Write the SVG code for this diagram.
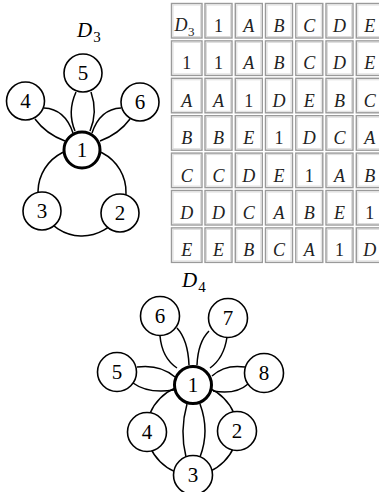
<svg xmlns="http://www.w3.org/2000/svg" width="379" height="492" viewBox="0 0 379 492">
  <style>
    .edge { fill: none; stroke: #000; stroke-width: 1.5; }
    .node circle { fill: #fff; stroke: #000; stroke-width: 1.6; }
    .node.hub circle { stroke-width: 3; }
    .node text { font-family: "Liberation Serif", "Times New Roman", serif; font-size: 21px; text-anchor: middle; fill: #000; }
    .title { font-family: "Liberation Serif", "Times New Roman", serif; font-style: italic; font-size: 21px; fill: #000; }
    .sub { font-style: normal; font-size: 15px; }
    .cell rect.o { fill: #fff; stroke: #9a9a9a; stroke-width: 1.4; }
    .cell rect.i { fill: none; stroke: #dcdcdc; stroke-width: 1; }
    .cell text { font-family: "Liberation Serif", "Times New Roman", serif; font-size: 18px; text-anchor: middle; fill: #222; }
    .cell text.l { font-style: italic; }
    .cell text.s { text-anchor: start; }
    .cell .csub { font-style: normal; font-size: 13px; }
  </style>

  <!-- Graph D3 -->
  <text class="title" x="77" y="37">D<tspan class="sub" dx="1" dy="5">3</tspan></text>

  <g id="d3-edges">
    <!-- 1-5 double edge -->
    <path class="edge" d="M75,131 Q67,112 76,92"/>
    <path class="edge" d="M90,131 Q98,112 91,92"/>
    <!-- 1-4 double edge -->
    <path class="edge" d="M44,108 Q65,109 73,133"/>
    <path class="edge" d="M35,119 Q46,134 65,141"/>
    <!-- 1-6 double edge -->
    <path class="edge" d="M121,108 Q100,109 92,133"/>
    <path class="edge" d="M130,119 Q119,134 100,141"/>
    <!-- outer ring 1-3, 3-2, 2-1 -->
    <path class="edge" d="M82,148 A44,44 0 0 0 42.3,210.9"/>
    <path class="edge" d="M42.3,210.9 A44,44 0 0 0 120.5,213.3"/>
    <path class="edge" d="M120.5,213.3 A44,44 0 0 0 82,148"/>
  </g>

  <g id="d3-n1" class="node hub"><circle cx="82" cy="150" r="18"/><text x="82" y="157">1</text></g>
  <g id="d3-n2" class="node"><circle cx="120" cy="213" r="19"/><text x="120" y="220">2</text></g>
  <g id="d3-n3" class="node"><circle cx="42" cy="211" r="19"/><text x="42" y="218">3</text></g>
  <g id="d3-n4" class="node"><circle cx="25.5" cy="101" r="19"/><text x="25.5" y="108">4</text></g>
  <g id="d3-n5" class="node"><circle cx="83" cy="73" r="19"/><text x="83" y="80">5</text></g>
  <g id="d3-n6" class="node"><circle cx="140" cy="102" r="19"/><text x="140" y="109">6</text></g>

  <!-- Multiplication table of D3 -->
  <g id="table">
    <!-- row 1 -->
    <g class="cell"><rect class="o" x="171.5" y="3.5" width="30.5" height="34.5"/><rect class="i" x="173" y="5" width="27.5" height="31.5"/><text class="l s" x="174.5" y="31">D<tspan class="csub" dx="0.5" dy="5">3</tspan></text></g>
    <g class="cell"><rect class="o" x="205" y="3.5" width="27" height="34.5"/><rect class="i" x="206.5" y="5" width="24" height="31.5"/><text x="218.5" y="32">1</text></g>
    <g class="cell"><rect class="o" x="235.3" y="3.5" width="27" height="34.5"/><rect class="i" x="236.8" y="5" width="24" height="31.5"/><text class="l" x="248.8" y="32">A</text></g>
    <g class="cell"><rect class="o" x="265.5" y="3.5" width="27" height="34.5"/><rect class="i" x="267" y="5" width="24" height="31.5"/><text class="l" x="279" y="32">B</text></g>
    <g class="cell"><rect class="o" x="295.8" y="3.5" width="27" height="34.5"/><rect class="i" x="297.3" y="5" width="24" height="31.5"/><text class="l" x="309.3" y="32">C</text></g>
    <g class="cell"><rect class="o" x="326" y="3.5" width="27" height="34.5"/><rect class="i" x="327.5" y="5" width="24" height="31.5"/><text class="l" x="339.5" y="32">D</text></g>
    <g class="cell"><rect class="o" x="356.3" y="3.5" width="27" height="34.5"/><rect class="i" x="357.8" y="5" width="24" height="31.5"/><text class="l" x="369.8" y="32">E</text></g>
    <!-- row 2 -->
    <g class="cell"><rect class="o" x="171.5" y="40.9" width="30.5" height="34.5"/><rect class="i" x="173" y="42.4" width="27.5" height="31.5"/><text x="186.7" y="69.4">1</text></g>
    <g class="cell"><rect class="o" x="205" y="40.9" width="27" height="34.5"/><rect class="i" x="206.5" y="42.4" width="24" height="31.5"/><text x="218.5" y="69.4">1</text></g>
    <g class="cell"><rect class="o" x="235.3" y="40.9" width="27" height="34.5"/><rect class="i" x="236.8" y="42.4" width="24" height="31.5"/><text class="l" x="248.8" y="69.4">A</text></g>
    <g class="cell"><rect class="o" x="265.5" y="40.9" width="27" height="34.5"/><rect class="i" x="267" y="42.4" width="24" height="31.5"/><text class="l" x="279" y="69.4">B</text></g>
    <g class="cell"><rect class="o" x="295.8" y="40.9" width="27" height="34.5"/><rect class="i" x="297.3" y="42.4" width="24" height="31.5"/><text class="l" x="309.3" y="69.4">C</text></g>
    <g class="cell"><rect class="o" x="326" y="40.9" width="27" height="34.5"/><rect class="i" x="327.5" y="42.4" width="24" height="31.5"/><text class="l" x="339.5" y="69.4">D</text></g>
    <g class="cell"><rect class="o" x="356.3" y="40.9" width="27" height="34.5"/><rect class="i" x="357.8" y="42.4" width="24" height="31.5"/><text class="l" x="369.8" y="69.4">E</text></g>
    <!-- row 3 -->
    <g class="cell"><rect class="o" x="171.5" y="78.3" width="30.5" height="34.5"/><rect class="i" x="173" y="79.8" width="27.5" height="31.5"/><text class="l" x="186.7" y="106.8">A</text></g>
    <g class="cell"><rect class="o" x="205" y="78.3" width="27" height="34.5"/><rect class="i" x="206.5" y="79.8" width="24" height="31.5"/><text class="l" x="218.5" y="106.8">A</text></g>
    <g class="cell"><rect class="o" x="235.3" y="78.3" width="27" height="34.5"/><rect class="i" x="236.8" y="79.8" width="24" height="31.5"/><text x="248.8" y="106.8">1</text></g>
    <g class="cell"><rect class="o" x="265.5" y="78.3" width="27" height="34.5"/><rect class="i" x="267" y="79.8" width="24" height="31.5"/><text class="l" x="279" y="106.8">D</text></g>
    <g class="cell"><rect class="o" x="295.8" y="78.3" width="27" height="34.5"/><rect class="i" x="297.3" y="79.8" width="24" height="31.5"/><text class="l" x="309.3" y="106.8">E</text></g>
    <g class="cell"><rect class="o" x="326" y="78.3" width="27" height="34.5"/><rect class="i" x="327.5" y="79.8" width="24" height="31.5"/><text class="l" x="339.5" y="106.8">B</text></g>
    <g class="cell"><rect class="o" x="356.3" y="78.3" width="27" height="34.5"/><rect class="i" x="357.8" y="79.8" width="24" height="31.5"/><text class="l" x="369.8" y="106.8">C</text></g>
    <!-- row 4 -->
    <g class="cell"><rect class="o" x="171.5" y="115.7" width="30.5" height="34.5"/><rect class="i" x="173" y="117.2" width="27.5" height="31.5"/><text class="l" x="186.7" y="144.2">B</text></g>
    <g class="cell"><rect class="o" x="205" y="115.7" width="27" height="34.5"/><rect class="i" x="206.5" y="117.2" width="24" height="31.5"/><text class="l" x="218.5" y="144.2">B</text></g>
    <g class="cell"><rect class="o" x="235.3" y="115.7" width="27" height="34.5"/><rect class="i" x="236.8" y="117.2" width="24" height="31.5"/><text class="l" x="248.8" y="144.2">E</text></g>
    <g class="cell"><rect class="o" x="265.5" y="115.7" width="27" height="34.5"/><rect class="i" x="267" y="117.2" width="24" height="31.5"/><text x="279" y="144.2">1</text></g>
    <g class="cell"><rect class="o" x="295.8" y="115.7" width="27" height="34.5"/><rect class="i" x="297.3" y="117.2" width="24" height="31.5"/><text class="l" x="309.3" y="144.2">D</text></g>
    <g class="cell"><rect class="o" x="326" y="115.7" width="27" height="34.5"/><rect class="i" x="327.5" y="117.2" width="24" height="31.5"/><text class="l" x="339.5" y="144.2">C</text></g>
    <g class="cell"><rect class="o" x="356.3" y="115.7" width="27" height="34.5"/><rect class="i" x="357.8" y="117.2" width="24" height="31.5"/><text class="l" x="369.8" y="144.2">A</text></g>
    <!-- row 5 -->
    <g class="cell"><rect class="o" x="171.5" y="153.1" width="30.5" height="34.5"/><rect class="i" x="173" y="154.6" width="27.5" height="31.5"/><text class="l" x="186.7" y="181.6">C</text></g>
    <g class="cell"><rect class="o" x="205" y="153.1" width="27" height="34.5"/><rect class="i" x="206.5" y="154.6" width="24" height="31.5"/><text class="l" x="218.5" y="181.6">C</text></g>
    <g class="cell"><rect class="o" x="235.3" y="153.1" width="27" height="34.5"/><rect class="i" x="236.8" y="154.6" width="24" height="31.5"/><text class="l" x="248.8" y="181.6">D</text></g>
    <g class="cell"><rect class="o" x="265.5" y="153.1" width="27" height="34.5"/><rect class="i" x="267" y="154.6" width="24" height="31.5"/><text class="l" x="279" y="181.6">E</text></g>
    <g class="cell"><rect class="o" x="295.8" y="153.1" width="27" height="34.5"/><rect class="i" x="297.3" y="154.6" width="24" height="31.5"/><text x="309.3" y="181.6">1</text></g>
    <g class="cell"><rect class="o" x="326" y="153.1" width="27" height="34.5"/><rect class="i" x="327.5" y="154.6" width="24" height="31.5"/><text class="l" x="339.5" y="181.6">A</text></g>
    <g class="cell"><rect class="o" x="356.3" y="153.1" width="27" height="34.5"/><rect class="i" x="357.8" y="154.6" width="24" height="31.5"/><text class="l" x="369.8" y="181.6">B</text></g>
    <!-- row 6 -->
    <g class="cell"><rect class="o" x="171.5" y="190.5" width="30.5" height="34.5"/><rect class="i" x="173" y="192" width="27.5" height="31.5"/><text class="l" x="186.7" y="219">D</text></g>
    <g class="cell"><rect class="o" x="205" y="190.5" width="27" height="34.5"/><rect class="i" x="206.5" y="192" width="24" height="31.5"/><text class="l" x="218.5" y="219">D</text></g>
    <g class="cell"><rect class="o" x="235.3" y="190.5" width="27" height="34.5"/><rect class="i" x="236.8" y="192" width="24" height="31.5"/><text class="l" x="248.8" y="219">C</text></g>
    <g class="cell"><rect class="o" x="265.5" y="190.5" width="27" height="34.5"/><rect class="i" x="267" y="192" width="24" height="31.5"/><text class="l" x="279" y="219">A</text></g>
    <g class="cell"><rect class="o" x="295.8" y="190.5" width="27" height="34.5"/><rect class="i" x="297.3" y="192" width="24" height="31.5"/><text class="l" x="309.3" y="219">B</text></g>
    <g class="cell"><rect class="o" x="326" y="190.5" width="27" height="34.5"/><rect class="i" x="327.5" y="192" width="24" height="31.5"/><text class="l" x="339.5" y="219">E</text></g>
    <g class="cell"><rect class="o" x="356.3" y="190.5" width="27" height="34.5"/><rect class="i" x="357.8" y="192" width="24" height="31.5"/><text x="369.8" y="219">1</text></g>
    <!-- row 7 -->
    <g class="cell"><rect class="o" x="171.5" y="227.9" width="30.5" height="34.5"/><rect class="i" x="173" y="229.4" width="27.5" height="31.5"/><text class="l" x="186.7" y="256.4">E</text></g>
    <g class="cell"><rect class="o" x="205" y="227.9" width="27" height="34.5"/><rect class="i" x="206.5" y="229.4" width="24" height="31.5"/><text class="l" x="218.5" y="256.4">E</text></g>
    <g class="cell"><rect class="o" x="235.3" y="227.9" width="27" height="34.5"/><rect class="i" x="236.8" y="229.4" width="24" height="31.5"/><text class="l" x="248.8" y="256.4">B</text></g>
    <g class="cell"><rect class="o" x="265.5" y="227.9" width="27" height="34.5"/><rect class="i" x="267" y="229.4" width="24" height="31.5"/><text class="l" x="279" y="256.4">C</text></g>
    <g class="cell"><rect class="o" x="295.8" y="227.9" width="27" height="34.5"/><rect class="i" x="297.3" y="229.4" width="24" height="31.5"/><text class="l" x="309.3" y="256.4">A</text></g>
    <g class="cell"><rect class="o" x="326" y="227.9" width="27" height="34.5"/><rect class="i" x="327.5" y="229.4" width="24" height="31.5"/><text x="339.5" y="256.4">1</text></g>
    <g class="cell"><rect class="o" x="356.3" y="227.9" width="27" height="34.5"/><rect class="i" x="357.8" y="229.4" width="24" height="31.5"/><text class="l" x="369.8" y="256.4">D</text></g>
  </g>

  <!-- Graph D4 -->
  <text class="title" x="182" y="287">D<tspan class="sub" dx="1" dy="5">4</tspan></text>

  <g id="d4-edges">
    <!-- 1-6 double edge -->
    <path class="edge" d="M160,336 Q162,358 177,368"/>
    <path class="edge" d="M177,328 Q188,340 189,365"/>
    <!-- 1-7 double edge -->
    <path class="edge" d="M209,331 Q198,342 197,365"/>
    <path class="edge" d="M227,337 Q224,358 210,368"/>
    <!-- 1-5 double edge -->
    <path class="edge" d="M137,367 Q160,364 175,377"/>
    <path class="edge" d="M133,383 Q148,394 174,390"/>
    <!-- 1-8 double edge -->
    <path class="edge" d="M245,367 Q225,364 212,376"/>
    <path class="edge" d="M248,384 Q236,395 213,391"/>
    <!-- 1-3 double edge -->
    <path class="edge" d="M187,404 Q179.5,431 186,457"/>
    <path class="edge" d="M200,404 Q210,431 200,457"/>
    <!-- outer ring 1-4, 4-3, 3-2, 2-1 -->
    <path class="edge" d="M192,385 A45,45 0 0 0 147,430"/>
    <path class="edge" d="M147,430 A45,45 0 0 0 192,475"/>
    <path class="edge" d="M192,475 A45,45 0 0 0 237,430"/>
    <path class="edge" d="M237,430 A45,45 0 0 0 192,385"/>
  </g>

  <g id="d4-n1" class="node hub"><circle cx="193" cy="385" r="18.5"/><text x="193" y="392">1</text></g>
  <g id="d4-n2" class="node"><circle cx="237" cy="431" r="19.5"/><text x="237" y="438">2</text></g>
  <g id="d4-n3" class="node"><circle cx="193" cy="475" r="19.5"/><text x="193" y="482">3</text></g>
  <g id="d4-n4" class="node"><circle cx="147" cy="432" r="19.5"/><text x="147" y="439">4</text></g>
  <g id="d4-n5" class="node"><circle cx="117" cy="372" r="19.5"/><text x="117" y="379">5</text></g>
  <g id="d4-n6" class="node"><circle cx="160" cy="316" r="19.5"/><text x="160" y="323">6</text></g>
  <g id="d4-n7" class="node"><circle cx="228" cy="318" r="19.5"/><text x="228" y="325">7</text></g>
  <g id="d4-n8" class="node"><circle cx="264" cy="373" r="19.5"/><text x="264" y="380">8</text></g>
</svg>
